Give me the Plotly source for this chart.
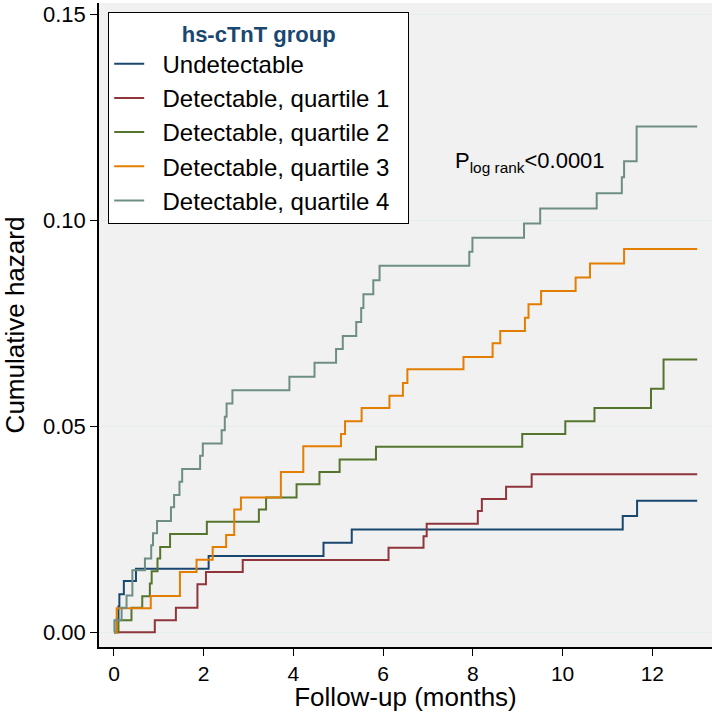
import plotly.graph_objects as go

# follow-up time (months) and cumulative hazard
undet_t = [0, 0.06, 0.10, 0.12, 0.22, 0.49, 2.11, 4.67, 5.30, 11.34, 11.66, 13.0]
undet_v = [0, 0.0031, 0.0062, 0.0092, 0.0124, 0.0154, 0.0185, 0.0217, 0.0249, 0.0282, 0.0319, 0.0319]

q1_t = [0, 0.91, 1.38, 1.86, 2.05, 2.87, 6.12, 6.90, 6.97, 8.11, 8.20, 8.74, 9.31, 13.0]
q1_v = [0, 0.0029, 0.0059, 0.0116, 0.0146, 0.0175, 0.0205, 0.0233, 0.0263, 0.0294, 0.0323, 0.0353, 0.0383, 0.0383]

q2_t = [0, 0.10, 0.39, 0.63, 0.80, 0.84, 0.97, 1.03, 1.25, 2.07, 3.23, 3.39, 4.07, 4.58, 5.03,
        5.84, 9.10, 10.06, 10.71, 11.97, 12.25, 13.0]
q2_v = [0, 0.0029, 0.0059, 0.0087, 0.0118, 0.0148, 0.0179, 0.0207, 0.0238, 0.0268, 0.0298, 0.0327,
        0.0359, 0.0389, 0.0419, 0.0450, 0.0481, 0.0512, 0.0544, 0.0591, 0.0662, 0.0662]

q3_t = [0, 0.06, 0.82, 1.47, 1.84, 2.20, 2.50, 2.68, 2.83, 3.72, 4.22, 5.06, 5.15, 5.52, 6.14,
        6.44, 6.54, 7.79, 8.44, 8.61, 9.16, 9.24, 9.52, 10.29, 10.61, 11.37, 13.0]
q3_v = [0, 0.0058, 0.0088, 0.0146, 0.0176, 0.0207, 0.0236, 0.0298, 0.0327, 0.0389, 0.0451, 0.0481,
        0.0512, 0.0544, 0.0574, 0.0605, 0.0638, 0.0668, 0.0701, 0.0731, 0.0763, 0.0796, 0.0828,
        0.0861, 0.0895, 0.0930, 0.0930]

q4_t = [0, 0.01, 0.17, 0.28, 0.41, 0.69, 0.83, 0.87, 0.96, 1.27, 1.34, 1.46, 1.52, 1.92, 1.98,
        2.40, 2.47, 2.51, 2.64, 3.91, 4.47, 4.95, 5.10, 5.40, 5.51, 5.56, 5.78, 5.92, 7.92, 7.99,
        9.14, 9.50, 10.76, 11.32, 11.37, 11.65, 13.0]
q4_v = [0, 0.0029, 0.0059, 0.0089, 0.0150, 0.0179, 0.0211, 0.0240, 0.0270, 0.0303, 0.0333, 0.0365,
        0.0396, 0.0428, 0.0458, 0.0490, 0.0523, 0.0555, 0.0587, 0.0620, 0.0654, 0.0687, 0.0719,
        0.0753, 0.0787, 0.0820, 0.0854, 0.0889, 0.0923, 0.0957, 0.0992, 0.1028, 0.1065, 0.1104,
        0.1143, 0.1227, 0.1227]

names = ["Undetectable", "Detectable, quartile 1", "Detectable, quartile 2",
         "Detectable, quartile 3", "Detectable, quartile 4"]
colors = ["#1a476f", "#90353b", "#55752f", "#e37e00", "#6e8e84"]
series = [(undet_t, undet_v), (q1_t, q1_v), (q2_t, q2_v), (q3_t, q3_v), (q4_t, q4_v)]

FONT = "Liberation Sans, Arial, sans-serif"
PAD = "\u00a0\u00a0"  # nbsp padding: wider key gap and right margin in the legend box

fig = go.Figure()
for i, (t, v) in enumerate(series):
    fig.add_trace(go.Scatter(x=t, y=v, mode="lines", line_shape="hv",
                             name=PAD + names[i] + PAD,
                             legendgroup=str(i),
                             line=dict(color=colors[i], width=2)))

fig.add_annotation(x=7.55, y=0.1142, xref="x", yref="y", xanchor="left", yanchor="middle",
                   text="P<sub>log rank</sub><0.0001", showarrow=False,
                   font=dict(size=22, color="black", family=FONT))

fig.update_layout(
    width=714, height=712,
    margin=dict(l=99, r=2, t=3, b=65),
    paper_bgcolor="white", plot_bgcolor="#f1f1f1",
    font=dict(family=FONT, size=22, color="black"),
    legend=dict(x=0.015, y=0.986, xanchor="left", yanchor="top",
                bgcolor="white", bordercolor="black", borderwidth=1,
                tracegroupgap=0,
                font=dict(size=24),
                title=dict(text="<b>hs-cTnT group</b>", side="top center",
                           font=dict(size=22, color="#1a476f"))),
    showlegend=True,
)
fig.update_xaxes(range=[-0.334, 13.33], tickvals=[0, 2, 4, 6, 8, 10, 12],
                 ticks="outside", ticklen=7, tickcolor="black", showline=True,
                 linecolor="black", linewidth=1.5, showgrid=False, zeroline=False,
                 tickfont=dict(size=21),
                 automargin=False, title=dict(text="Follow-up (months)"))
fig.update_yaxes(range=[-0.0036, 0.1527], tickvals=[0, 0.05, 0.10, 0.15], tickformat=".2f",
                 ticks="outside", ticklen=7, tickcolor="black", showline=True,
                 linecolor="black", linewidth=1.5, showgrid=True, gridcolor="#e4eeee",
                 gridwidth=1, zeroline=False,
                 automargin=False, title=dict(text="Cumulative hazard"))

# drop the default 8px page margin so the figure fills the window
fig.write_html("out.html", config={"displayModeBar": False},
               post_script="document.body.style.margin='0';")
